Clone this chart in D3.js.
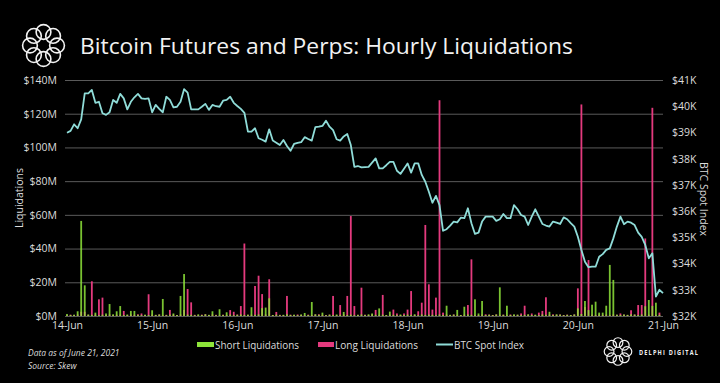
<!DOCTYPE html>
<html><head><meta charset="utf-8">
<script src="https://cdn.jsdelivr.net/npm/d3@7"></script>
<style>
html,body{margin:0;padding:0;background:#000;}
svg{display:block;}
text{font-family:"Open Sans","DejaVu Sans",sans-serif;}
</style></head>
<body>
<svg id="c" width="720" height="383"></svg>
<script>
// ---------- DATA ----------
const startDate = "2021-06-14T00:00:00Z";
const endDate = "2021-06-21T00:00:00Z";
const title = "Bitcoin Futures and Perps: Hourly Liquidations";
const leftTicks = [0,20,40,60,80,100,120,140];           // $M
const rightTicks = [32,33,34,35,36,37,38,39,40,41];       // $K
const dayTicks = ["14-Jun","15-Jun","16-Jun","17-Jun","18-Jun","19-Jun","20-Jun","21-Jun"];
// hourly short liquidations ($M), hour 0 = 14-Jun 00:00
const shortLiq = [
 1.2,0.6,0.8,2.8,56.4,18.2,0.9,0.7,2.0,0.5,0.8,1.5,
 7.1,1.0,2.8,5.9,0.6,0.9,3.0,3.0,0.7,0.5,0.8,0.6,
 3.4,0.7,0.9,10.1,0.5,0.8,1.5,0.6,11.9,24.9,0.8,0.7,
 0.5,1.0,0.6,1.0,0.7,2.8,0.5,4.0,0.6,2.2,0.8,0.5,
 0.7,0.9,0.6,0.8,5.2,0.7,0.9,4.7,5.0,10.5,0.6,0.8,
 0.5,0.7,1.0,0.6,0.8,0.5,0.9,1.8,0.6,8.3,1.0,0.7,
 2.0,0.5,0.8,0.6,0.9,0.7,2.4,0.6,0.8,0.5,0.7,0.9,
 0.6,1.0,1.5,0.7,4.5,0.8,0.6,2.6,0.7,0.5,0.9,0.6,
 0.8,0.7,1.0,0.5,0.9,0.6,0.8,0.7,0.5,0.9,0.6,6.1,
 0.7,0.8,3.6,0.6,5.5,0.9,0.7,9.9,1.5,8.9,0.6,0.8,
 0.5,0.9,17.0,0.7,6.1,0.6,1.0,0.8,0.5,0.7,1.0,0.6,
 0.8,0.5,0.9,0.7,2.5,0.6,1.0,0.8,0.5,0.7,0.6,0.9,
 4.5,1.2,8.9,3.5,6.7,8.5,2.0,2.0,6.1,30.3,21.4,0.8,
 0.6,0.9,0.7,1.0,0.8,0.6,0.9,5.8,9.5,6.0,7.9,0.7
];
// hourly long liquidations ($M)
const longLiq = [
 0.5,0.8,0.6,0.9,2.5,2.5,0.7,20.6,0.8,9.9,10.9,0.6,
 0.9,0.5,0.7,0.8,3.0,0.6,0.9,0.7,1.0,1.5,0.6,12.9,
 0.8,0.6,0.9,0.5,0.7,3.6,0.8,0.6,0.9,3.6,16.0,8.1,
 0.7,0.5,0.8,1.0,0.6,0.9,0.7,0.5,0.8,0.6,3.5,2.5,
 0.9,5.9,43.0,0.7,0.8,17.8,23.9,13.0,0.9,21.8,0.6,2.4,
 0.7,0.5,11.9,0.8,0.6,0.9,0.7,0.5,0.8,0.6,0.9,1.0,
 0.7,0.6,0.8,11.9,0.5,6.5,0.9,11.9,59.3,5.9,0.7,16.8,
 0.8,0.6,0.9,3.6,0.7,12.5,0.5,0.8,3.8,1.5,0.6,1.5,
 3.8,14.8,0.7,2.8,7.9,54.0,18.8,3.8,10.9,128.0,2.0,0.8,
 0.6,0.9,0.7,0.5,0.8,6.5,33.6,0.7,0.6,0.9,1.0,0.8,
 0.6,0.9,0.7,0.8,0.5,0.9,0.6,0.7,1.5,6.1,0.8,1.5,
 0.6,2.0,3.0,11.1,0.8,1.0,0.7,0.9,0.6,0.8,0.5,0.9,
 16.4,125.5,5.3,33.2,0.8,0.6,0.9,0.7,0.8,0.6,0.9,0.7,
 1.5,0.8,0.6,3.4,0.9,6.5,6.5,46.0,0.8,123.5,0.7,2.0
];
// hourly BTC spot index ($K), hours 0..168
const btcPrice = [
 38.99,39.06,39.31,39.16,39.50,40.49,40.49,40.62,40.13,40.17,39.73,39.67,
 39.77,40.24,40.13,40.47,40.30,39.88,40.17,40.34,40.47,40.30,40.28,40.30,
 39.77,40.05,39.90,39.77,40.36,40.24,39.96,39.98,40.17,40.65,40.52,39.88,
 39.88,39.88,39.98,40.09,39.86,40.05,40.00,39.98,40.21,40.24,40.36,40.13,
 40.01,39.90,39.75,39.03,39.03,39.16,38.78,38.72,38.65,39.12,38.69,38.61,
 38.52,38.71,38.48,38.30,38.56,38.60,38.63,38.82,38.75,38.69,39.20,39.22,
 39.25,39.45,39.22,39.09,38.74,38.69,38.85,38.94,38.52,37.69,37.72,37.67,
 37.68,37.69,37.85,38.01,37.63,37.63,37.75,37.88,37.88,37.54,37.42,37.62,
 37.82,37.47,37.82,37.82,37.38,37.12,36.74,36.32,36.58,36.23,35.25,35.31,
 35.45,35.60,35.57,35.75,35.73,36.11,35.54,35.13,35.18,35.60,35.79,35.79,
 35.79,35.63,35.69,35.89,35.73,35.73,36.23,36.07,35.85,35.79,35.47,35.79,
 36.07,35.79,35.51,35.45,35.41,35.60,35.56,35.51,35.76,35.69,35.54,35.41,
 35.02,34.52,34.07,33.86,33.88,33.88,34.26,34.36,34.52,34.58,34.96,35.41,
 35.79,35.50,35.60,35.56,35.47,35.18,35.02,34.71,34.20,34.39,32.74,33.00,
 32.87
];
const legendItems = ["Short Liquidations","Long Liquidations","BTC Spot Index"];

// ---------- STYLE / LAYOUT ----------
const C = {green:"#8ee43a", pink:"#e43a7e", line:"#8fdcd8", grid:"#5a5a5a", text:"#dcdcdc"};
const svg = d3.select("#c");
svg.append("rect").attr("width",720).attr("height",383).attr("fill","#000");

const t0 = new Date(startDate), t1 = new Date(endDate);
const hourDate = h => new Date(t0.getTime() + h*3600e3);
const x = d3.scaleUtc().domain([t0,t1]).range([67,663]);
const yL = d3.scaleLinear().domain([0,140]).range([316,80]);
const yR = d3.scaleLinear().domain([32,41]).range([316,80]);

// gridlines
svg.append("g").selectAll("line").data(leftTicks).join("line")
  .attr("x1",65).attr("x2",663)
  .attr("y1",d=>yL(d)+0.5).attr("y2",d=>yL(d)+0.5)
  .attr("stroke",C.grid).attr("stroke-width",1);

// left axis
const axL = svg.append("g").attr("transform","translate(65,0)")
  .call(d3.axisLeft(yL).tickValues(leftTicks).tickSize(0).tickPadding(8).tickFormat(d=>"$"+d+"M"));
axL.select(".domain").remove();
axL.selectAll("text").attr("fill",C.text).attr("font-size",10.5).style("font-family",'"Open Sans",sans-serif');

// right axis
const axR = svg.append("g").attr("transform","translate(663,0)")
  .call(d3.axisRight(yR).tickValues(rightTicks).tickSize(0).tickPadding(9).tickFormat(d=>"$"+d+"K"));
axR.select(".domain").remove();
axR.selectAll("text").attr("fill",C.text).attr("font-size",10.5).style("font-family",'"Open Sans",sans-serif');

// x axis
const dayDates = dayTicks.map((d,i)=>hourDate(i*24));
const axX = svg.append("g").attr("transform","translate(0,316)")
  .call(d3.axisBottom(x).tickValues(dayDates).tickSize(0).tickPadding(6).tickFormat((d,i)=>dayTicks[i]));
axX.select(".domain").remove();
axX.selectAll("text").attr("fill",C.text).attr("font-size",10.5).style("font-family",'"Open Sans",sans-serif');

// bars
const bw = 1.8;
svg.append("g").selectAll("rect").data(longLiq).join("rect")
  .attr("x",(d,i)=>x(hourDate(i))-bw/2).attr("width",bw)
  .attr("y",d=>yL(d)).attr("height",d=>yL(0)-yL(d))
  .attr("fill",C.pink);
svg.append("g").selectAll("rect").data(shortLiq).join("rect")
  .attr("x",(d,i)=>x(hourDate(i))-bw/2).attr("width",bw)
  .attr("y",d=>yL(d)).attr("height",d=>yL(0)-yL(d))
  .attr("fill",C.green).attr("opacity",0.85);

// btc line
svg.append("path").datum(btcPrice)
  .attr("d",d3.line().x((d,i)=>x(hourDate(i))).y(d=>yR(d)))
  .attr("fill","none").attr("stroke",C.line).attr("stroke-width",1.8).attr("stroke-linejoin","round");

// axis titles
svg.append("text").attr("transform","translate(23,198) rotate(-90)")
  .attr("text-anchor","middle").attr("fill",C.text).attr("font-size",10.5).text("Liquidations");
svg.append("text").attr("transform","translate(700,199) rotate(90)")
  .attr("text-anchor","middle").attr("fill",C.text).attr("font-size",10.5).text("BTC Spot Index");

// title
const tt = svg.append("text").attr("x",80).attr("y",54).attr("fill","#f2f2f2")
  .attr("font-size",21).style("font-family",'"Open Sans",sans-serif').text(title);
tt.attr("textLength",493).attr("lengthAdjust","spacingAndGlyphs");

// logo helper
function logo(cx,cy,R,sw){
  const g = svg.append("g").attr("transform",`translate(${cx},${cy})`);
  const n=8, rr=R*0.66, r=R*0.36;
  for(let k=0;k<n;k++){
    const a = k*2*Math.PI/n - Math.PI/2;
    g.append("circle").attr("cx",rr*Math.cos(a)).attr("cy",rr*Math.sin(a)).attr("r",r)
      .attr("fill","none").attr("stroke","#f2f2f2").attr("stroke-width",sw);
  }
}
logo(43.5,45.5,20.5,1.6);
logo(618,351.5,13.5,1.2);
svg.append("text").attr("x",639).attr("y",354.5).attr("fill","#f2f2f2")
  .attr("font-size",7).attr("font-weight","bold").style("letter-spacing","1.5px")
  .attr("textLength",60).attr("lengthAdjust","spacingAndGlyphs").text("DELPHI DIGITAL");

// legend
const lg = svg.append("g").attr("font-size",10.5).attr("fill",C.text);
lg.append("rect").attr("x",197).attr("y",342).attr("width",17).attr("height",5).attr("fill",C.green);
lg.append("text").attr("x",215).attr("y",348.5).attr("textLength",84).attr("lengthAdjust","spacingAndGlyphs").text(legendItems[0]);
lg.append("rect").attr("x",318).attr("y",342).attr("width",16).attr("height",5).attr("fill",C.pink);
lg.append("text").attr("x",335).attr("y",348.5).attr("textLength",83).attr("lengthAdjust","spacingAndGlyphs").text(legendItems[1]);
lg.append("line").attr("x1",436).attr("x2",453).attr("y1",344.5).attr("y2",344.5).attr("stroke",C.line).attr("stroke-width",2);
lg.append("text").attr("x",454).attr("y",348.5).attr("textLength",70).attr("lengthAdjust","spacingAndGlyphs").text(legendItems[2]);

// footnotes
svg.append("text").attr("x",28).attr("y",356).attr("fill",C.text).attr("font-size",8.5).attr("font-style","italic").text("Data as of June 21, 2021");
svg.append("text").attr("x",28).attr("y",369).attr("fill",C.text).attr("font-size",8.5).attr("font-style","italic").text("Source: Skew");
</script>
</body></html>
